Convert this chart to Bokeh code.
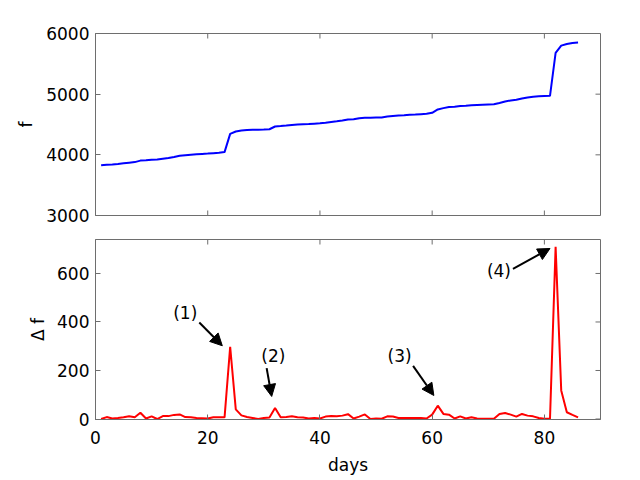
from bokeh.plotting import figure
from bokeh.layouts import column
from bokeh.models import (Range1d, FixedTicker, LinearAxis, Arrow, NormalHead,
                          ColumnDataSource)
from bokeh.core.properties import value
from bokeh.embed import file_html
from bokeh.resources import INLINE

days = list(range(1, 87))

f_values = [
    3830, 3838, 3842, 3850, 3860, 3870, 3880, 3905, 3910, 3920,
    3922, 3935, 3947, 3965, 3985, 3995, 4003, 4010, 4015, 4020,
    4028, 4036, 4045, 4345, 4385, 4400, 4408, 4412, 4412, 4416,
    4422, 4467, 4474, 4482, 4493, 4500, 4506, 4508, 4514, 4520,
    4530, 4542, 4553, 4566, 4584, 4586, 4604, 4611, 4612, 4615,
    4617, 4630, 4642, 4648, 4653, 4659, 4664, 4670, 4676, 4693,
    4748, 4770, 4790, 4793, 4805, 4810, 4818, 4822, 4826, 4830,
    4834, 4855, 4880, 4897, 4907, 4928, 4945, 4958, 4964, 4968,
    4972, 5680, 5800, 5828, 5845, 5852,
]

df_values = [
    0, 8, 2, 4, 7, 11, 7, 26, 2, 11,
    0, 12, 12, 17, 19, 8, 7, 4, 3, 2,
    7, 7, 7, 298, 40, 15, 8, 4, 0, 4,
    6, 45, 7, 8, 11, 7, 6, 2, 4, 2,
    10, 12, 11, 14, 20, 2, 10, 19, 0, 2,
    1, 11, 10, 4, 4, 4, 4, 4, 2, 18,
    55, 21, 18, 2, 11, 2, 7, 2, 1, 1,
    1, 21, 25, 18, 10, 21, 14, 11, 4, 1,
    1, 710, 118, 28, 17, 7,
]

x_ticks = [0, 20, 40, 60, 80]
f_ticks = [3000, 4000, 5000, 6000]
df_ticks = [0, 200, 400, 600]

ann_labels = ["(1)", "(2)", "(3)", "(4)"]
ann_text_x = [16.0, 31.7, 54.2, 71.9]
ann_text_y = [436, 260, 260, 611]
ann_tail_x = [18.5, 30.5, 56.6, 74.4]
ann_tail_y = [398, 210, 219, 619]
ann_head_x = [22.6, 31.4, 60.3, 81.0]
ann_head_y = [302, 93, 97, 703]

FONT = "DejaVu Sans"
FS = "17px"
GRAY = "#6e6e6e"
FW = 505
TICK = 5


def style_axis(ax):
    ax.axis_line_color = GRAY
    ax.major_tick_line_color = GRAY
    ax.major_tick_in = TICK
    ax.major_tick_out = 0
    ax.minor_tick_line_color = None
    ax.major_label_text_font = FONT
    ax.major_label_text_font_size = FS
    ax.major_label_text_color = "black"
    ax.axis_label_text_font = FONT
    ax.axis_label_text_font_size = FS
    ax.axis_label_text_font_style = "normal"
    ax.axis_label_text_color = "black"


def make_fig(y0, y1, yt, fh, top, bottom, ylabel, ystand, xlabels):
    p = figure(width=10, height=10, frame_width=FW, frame_height=fh,
               output_backend="svg", toolbar_location=None,
               x_range=Range1d(0, 90), y_range=Range1d(y0, y1),
               x_axis_location=None, y_axis_location=None,
               min_border_left=95, min_border_right=24,
               min_border_top=top, min_border_bottom=bottom)
    p.extra_x_ranges = {"px": Range1d(0, FW)}
    p.extra_y_ranges = {"px": Range1d(0, fh)}
    p.grid.visible = False
    p.outline_line_color = GRAY
    p.background_fill_color = "white"

    left = LinearAxis(ticker=FixedTicker(ticks=yt), axis_label=ylabel)
    style_axis(left)
    left.major_label_standoff = 6
    left.axis_label_standoff = ystand
    p.add_layout(left, "left")

    if xlabels:
        below = LinearAxis(ticker=FixedTicker(ticks=x_ticks), axis_label="days")
        style_axis(below)
        below.major_label_standoff = 11
        below.axis_label_standoff = 8
        p.add_layout(below, "below")
    else:
        p.segment(x0=x_ticks, y0=[0] * len(x_ticks), x1=x_ticks,
                  y1=[TICK] * len(x_ticks), y_range_name="px",
                  line_color=GRAY, line_width=1)
    # top ticks
    p.segment(x0=x_ticks, y0=[fh] * len(x_ticks), x1=x_ticks,
              y1=[fh - TICK] * len(x_ticks), y_range_name="px",
              line_color=GRAY, line_width=1)
    # right ticks
    p.segment(x0=[FW] * len(yt), y0=yt, x1=[FW - TICK] * len(yt), y1=yt,
              x_range_name="px", line_color=GRAY, line_width=1)
    return p


p1 = make_fig(3000, 6000, f_ticks, 182, 33, 12, "f", 7, False)
p1.line(days, f_values, line_color="#0000ff", line_width=2)

p2 = make_fig(-2, 740, df_ticks, 180, 12, 50, "Δ f", 6, True)
p2.line(days, df_values, line_color="#ff0000", line_width=2)

src = ColumnDataSource(dict(x=ann_text_x, y=ann_text_y, t=ann_labels))
p2.text(x="x", y="y", text="t", source=src, text_align="center",
        text_baseline="middle", text_font=value(FONT), text_font_size=FS,
        text_color="black")
for tx, ty, hx, hy in zip(ann_tail_x, ann_tail_y, ann_head_x, ann_head_y):
    p2.add_layout(Arrow(end=NormalHead(size=12, fill_color="black",
                                       line_color="black"),
                        x_start=tx, y_start=ty, x_end=hx, y_end=hy,
                        line_color="black", line_width=2))

layout = column(p1, p2, spacing=0)
open("out.html", "w").write(file_html(layout, INLINE))
